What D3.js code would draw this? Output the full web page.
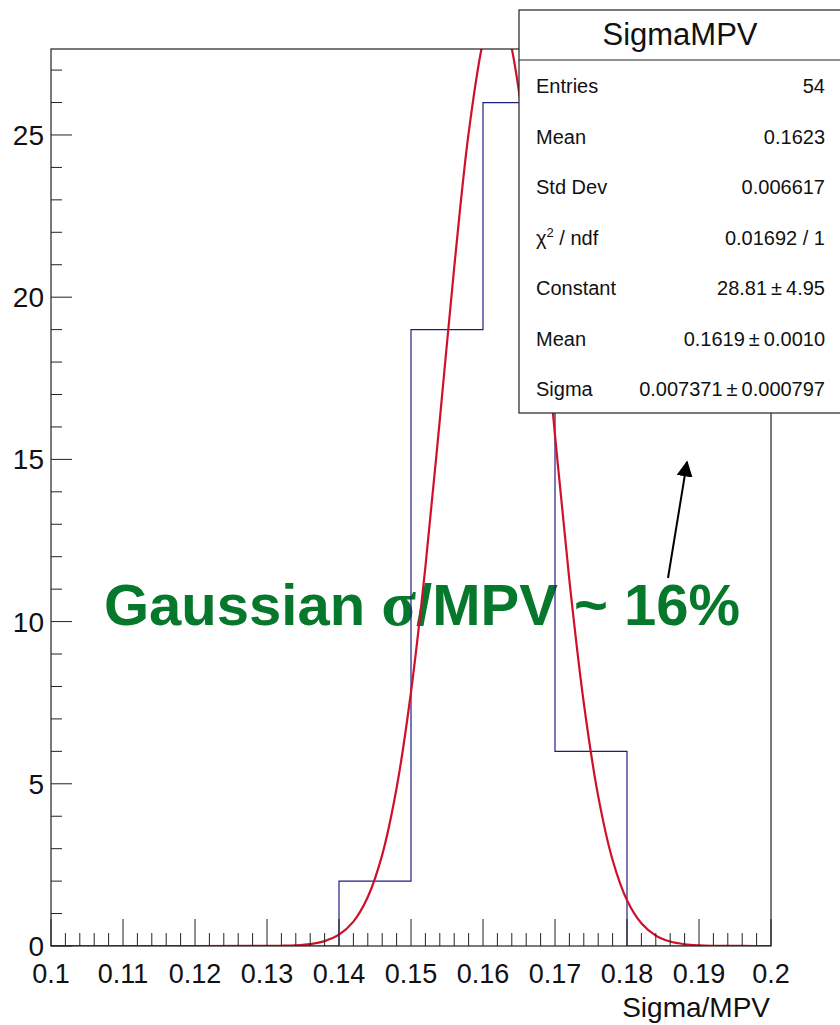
<!DOCTYPE html>
<html>
<head>
<meta charset="utf-8">
<script src="https://cdn.jsdelivr.net/npm/d3@7/dist/d3.min.js"></script>
<style>
  html, body { margin: 0; padding: 0; background: #fff; }
  svg { display: block; }
  text { font-family: "Liberation Sans", Arial, Helvetica, sans-serif; }
</style>
</head>
<body>
<svg id="chart" width="840" height="1025"></svg>
<script>
// ---------------- data ----------------
const binEdges = [0.10, 0.11, 0.12, 0.13, 0.14, 0.15, 0.16, 0.17, 0.18, 0.19, 0.20];
const binCounts = [0, 0, 0, 0, 2, 19, 26, 6, 0, 0];

// fitted Gaussian curve
const fitX = [0.100, 0.120, 0.128, 0.130, 0.132, 0.134, 0.136, 0.138, 0.140, 0.142, 0.144, 0.146, 0.148,
              0.150, 0.152, 0.154, 0.156, 0.158, 0.160, 0.161, 0.162, 0.163, 0.164, 0.166, 0.168,
              0.170, 0.172, 0.174, 0.176, 0.178, 0.180, 0.182, 0.184, 0.186, 0.188, 0.190,
              0.192, 0.194, 0.196, 0.200];
const fitY = [0.000, 0.000, 0.001, 0.003, 0.008, 0.022, 0.060, 0.150, 0.349, 0.752, 1.51, 2.81, 4.87,
              7.83, 11.69, 16.22, 20.91, 25.05, 27.87, 28.60, 28.81, 28.49, 27.66, 24.68, 20.46,
              15.75, 11.27, 7.49, 4.62, 2.65, 1.41, 0.70, 0.32, 0.137, 0.055, 0.021,
              0.007, 0.002, 0.001, 0.000];

const xTicks = [0.10, 0.11, 0.12, 0.13, 0.14, 0.15, 0.16, 0.17, 0.18, 0.19, 0.20];
const xTickLabels = ["0.1", "0.11", "0.12", "0.13", "0.14", "0.15", "0.16", "0.17", "0.18", "0.19", "0.2"];
const yTicks = [0, 5, 10, 15, 20, 25];
const yTickLabels = ["0", "5", "10", "15", "20", "25"];

const statsTitle = "SigmaMPV";
const statsLabels = ["Entries", "Mean", "Std Dev", "CHI2", "Constant", "Mean", "Sigma"];
const statsValues = ["54", "0.1623", "0.006617", "0.01692 / 1", "28.81\u2009\u00b1\u20094.95", "0.1619\u2009\u00b1\u20090.0010", "0.007371\u2009\u00b1\u20090.000797"];

const xAxisTitle = "Sigma/MPV";

// ---------------- layout ----------------
const svg = d3.select("#chart");
const L = 51, R = 771, T = 49, B = 946;
const x = d3.scaleLinear().domain([0.1, 0.2]).range([L, R]);
const y = d3.scaleLinear().domain([0, 27.65]).range([B, T]);

svg.append("defs").append("clipPath").attr("id", "frameClip")
  .append("rect").attr("x", L).attr("y", T).attr("width", R - L).attr("height", B - T);

// annotation text (under lines)
const green = "#05782b";
const ann = svg.append("text")
  .attr("x", 104).attr("y", 625)
  .attr("font-size", 58).attr("font-weight", "bold").attr("fill", green);
ann.append("tspan").text("Gaussian ");
ann.append("tspan").attr("font-family", "'Liberation Serif', 'DejaVu Serif', serif").attr("font-size", 64).text("\u03c3");
ann.append("tspan").text("/MPV ~ 16%");

// histogram outline
const histPts = [];
histPts.push([x(binEdges[0]), y(0)]);
binCounts.forEach((c, i) => {
  histPts.push([x(binEdges[i]), y(c)]);
  histPts.push([x(binEdges[i + 1]), y(c)]);
});
histPts.push([x(binEdges[binEdges.length - 1]), y(0)]);
svg.append("path")
  .attr("d", d3.line()(histPts))
  .attr("fill", "none").attr("stroke", "#1f1f80").attr("stroke-width", 1.2)
  .attr("clip-path", "url(#frameClip)");

// fit curve
svg.append("path")
  .datum(fitX.map((v, i) => [v, fitY[i]]))
  .attr("d", d3.line().x(d => x(d[0])).y(d => y(d[1])).curve(d3.curveCatmullRom.alpha(0.5)))
  .attr("fill", "none").attr("stroke", "#d0102a").attr("stroke-width", 2.2)
  .attr("clip-path", "url(#frameClip)");

// frame
svg.append("rect").attr("x", L).attr("y", T).attr("width", R - L).attr("height", B - T)
  .attr("fill", "none").attr("stroke", "#222").attr("stroke-width", 1.2);

// x ticks
const xMinor = d3.range(0, 51).map(i => 0.1 + i * 0.002);
svg.append("g").selectAll("line").data(xMinor).join("line")
  .attr("x1", d => x(d)).attr("x2", d => x(d))
  .attr("y1", B).attr("y2", (d, i) => i % 5 === 0 ? B - 27 : B - 13)
  .attr("stroke", "#222").attr("stroke-width", 1);
svg.append("g").selectAll("text").data(xTicks).join("text")
  .attr("x", d => x(d)).attr("y", 983)
  .attr("text-anchor", "middle").attr("font-size", 27).attr("fill", "#111")
  .text((d, i) => xTickLabels[i]);

// y ticks
const yMinor = d3.range(0, 28);
svg.append("g").selectAll("line").data(yMinor).join("line")
  .attr("x1", L).attr("x2", d => d % 5 === 0 ? L + 21 : L + 11)
  .attr("y1", d => y(d)).attr("y2", d => y(d))
  .attr("stroke", "#222").attr("stroke-width", 1);
svg.append("g").selectAll("text").data(yTicks).join("text")
  .attr("x", 44).attr("y", d => y(d) + 10)
  .attr("text-anchor", "end").attr("font-size", 28).attr("fill", "#111")
  .text((d, i) => yTickLabels[i]);

// x axis title
svg.append("text").attr("x", 770).attr("y", 1017).attr("text-anchor", "end")
  .attr("font-size", 28).attr("fill", "#111").text(xAxisTitle);

// arrow
svg.append("defs").append("marker").attr("id", "arrowHead")
  .attr("viewBox", "0 0 10 10").attr("refX", 9).attr("refY", 5)
  .attr("markerWidth", 16).attr("markerHeight", 16).attr("markerUnits", "userSpaceOnUse")
  .attr("orient", "auto")
  .append("path").attr("d", "M0,0 L10,5 L0,10 z").attr("fill", "#000");
svg.append("line").attr("x1", 668).attr("y1", 578).attr("x2", 687).attr("y2", 462)
  .attr("stroke", "#000").attr("stroke-width", 2).attr("marker-end", "url(#arrowHead)");

// stats box
const sb = { x: 519, y: 10, w: 330, h: 403, sep: 60 };
const g = svg.append("g");
g.append("rect").attr("x", sb.x).attr("y", sb.y).attr("width", sb.w).attr("height", sb.h)
  .attr("fill", "#fff").attr("stroke", "#222").attr("stroke-width", 1.2);
g.append("line").attr("x1", sb.x).attr("x2", sb.x + sb.w).attr("y1", sb.sep).attr("y2", sb.sep)
  .attr("stroke", "#222").attr("stroke-width", 1.2);
g.append("text").attr("x", 680).attr("y", 45).attr("text-anchor", "middle")
  .attr("font-size", 31).attr("fill", "#111").text(statsTitle);
const rowY = d3.range(statsLabels.length).map(i => 86 + i * 50.5);
statsLabels.forEach((lab, i) => {
  const t = g.append("text").attr("x", 536).attr("y", rowY[i] + 7).attr("font-size", 20).attr("fill", "#111");
  if (lab === "CHI2") {
    t.append("tspan").text("\u03c7");
    t.append("tspan").attr("font-size", 13).attr("dy", -8).text("2");
    t.append("tspan").attr("dy", 8).text(" / ndf");
  } else {
    t.text(lab);
  }
  g.append("text").attr("x", 825).attr("y", rowY[i] + 7).attr("text-anchor", "end")
    .attr("font-size", 20).attr("fill", "#111").text(statsValues[i]);
});
</script>
</body>
</html>
